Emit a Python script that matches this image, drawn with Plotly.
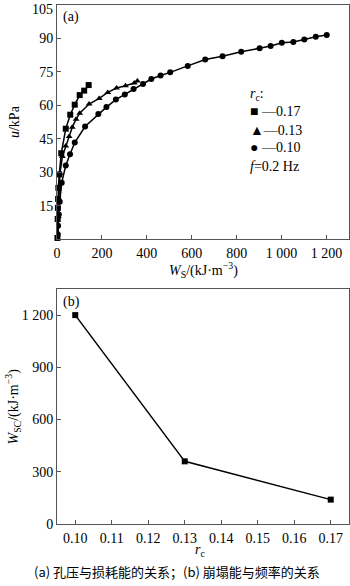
import plotly.graph_objects as go

# ---- data (a) ----
w_017 = [2, 3, 4, 5, 6, 10, 19, 39, 59, 79, 101, 121, 141]
u_017 = [0.5, 9, 14, 18, 23, 29, 38.5, 49.5, 55.8, 60.3, 64.6, 66.6, 69.1]

w_013 = [3, 6, 9, 13, 24, 39, 54, 68, 85, 101, 143, 188, 226, 265, 305, 344, 358]
u_013 = [3, 10, 18, 29.5, 37, 41.8, 46, 50.2, 53.8, 56.5, 60.6, 63.1, 65.8, 67.8, 68.8, 70.0, 70.9]

w_010 = [3, 5, 8, 12, 21, 39, 58, 79, 125, 184, 220, 262, 302, 341, 383, 420, 461, 504,
         582, 660, 737, 820, 902, 951, 1001, 1052, 1101, 1152, 1201]
u_010 = [2, 6, 11, 16.8, 25.3, 33, 38.1, 43.3, 50.5, 56.1, 59.2, 62.6, 64.9, 67.3, 69.6,
         71.8, 73.4, 74.8, 77.7, 80.6, 82, 84, 85.6, 86.6, 88.1, 88.4, 89.5, 90.8, 91.6]

# ---- data (b) ----
rc_vals = [0.10, 0.13, 0.17]
wsc_vals = [1200, 360, 140]

# ---- ticks ----
xa_tickvals = [0, 200, 400, 600, 800, 1000, 1200]
xa_ticktext = ["0", "200", "400", "600", "800", "1 000", "1 200"]
ya_tickvals = [15, 30, 45, 60, 75, 90, 105]
ya_ticktext = ["15", "30", "45", "60", "75", "90", "105"]
xb_tickvals = [0.10, 0.11, 0.12, 0.13, 0.14, 0.15, 0.16, 0.17]
xb_ticktext = ["0.10", "0.11", "0.12", "0.13", "0.14", "0.15", "0.16", "0.17"]
yb_tickvals = [0, 300, 600, 900, 1200]
yb_ticktext = ["0", "300", "600", "900", "1 200"]

SERIF = "Liberation Serif"
FS = 14

fig = go.Figure()
line = dict(color="black", width=1.5)
fig.add_trace(go.Scatter(x=w_017, y=u_017, mode="lines+markers", line=line,
                         marker=dict(symbol="square", size=6, color="black"),
                         xaxis="x", yaxis="y", showlegend=False, cliponaxis=False))
fig.add_trace(go.Scatter(x=w_013, y=u_013, mode="lines+markers", line=line,
                         marker=dict(symbol="triangle-up", size=6, color="black"),
                         xaxis="x", yaxis="y", showlegend=False))
fig.add_trace(go.Scatter(x=w_010, y=u_010, mode="lines+markers", line=line,
                         marker=dict(symbol="circle", size=6, color="black"),
                         xaxis="x", yaxis="y", showlegend=False))
fig.add_trace(go.Scatter(x=rc_vals, y=wsc_vals, mode="lines+markers", line=line,
                         marker=dict(symbol="square", size=6, color="black"),
                         xaxis="x2", yaxis="y2", showlegend=False))

axcommon = dict(showline=True, linecolor="#555", linewidth=1, mirror=True,
                ticks="inside", ticklen=4, tickcolor="#555", showgrid=False,
                zeroline=False, tickfont=dict(family=SERIF, size=FS, color="black"))

# top tick label drawn as annotation (plotly hides it at the paper edge)
ya_ticktext_axis = [t if v != 105 else "" for v, t in zip(ya_tickvals, ya_ticktext)]

fig.update_layout(
    width=350, height=586,
    margin=dict(l=57, r=1, t=5, b=62),
    paper_bgcolor="white", plot_bgcolor="white",
    xaxis=dict(domain=[0, 1], anchor="y", range=[0, 1300], ticklabelstandoff=1,
               tickvals=xa_tickvals, ticktext=xa_ticktext, **axcommon),
    yaxis=dict(domain=[0.549, 1], anchor="x", range=[0, 105.02],
               tickvals=ya_tickvals, ticktext=ya_ticktext_axis, **axcommon),
    xaxis2=dict(domain=[0, 1], anchor="y2", range=[0.095, 0.175], ticklabelstandoff=1,
                tickvals=xb_tickvals, ticktext=xb_ticktext, **axcommon),
    yaxis2=dict(domain=[0, 0.4528], anchor="x2", range=[0, 1350],
                tickvals=yb_tickvals, ticktext=yb_ticktext, **axcommon),
)

tf = dict(family=SERIF, size=FS, color="black")
ann = []
ann.append(dict(x=0, y=ya_tickvals[-1], xref="paper", yref="y", text=ya_ticktext[-1],
                showarrow=False, xanchor="right", yanchor="top", xshift=-2, yshift=5,
                font=tf))
# panel labels
ann.append(dict(x=18, y=99.8, xref="x", yref="y", text="(a)", showarrow=False,
                xanchor="left", yanchor="middle", font=tf))
ann.append(dict(x=0.0962, y=1276, xref="x2", yref="y2", text="(b)", showarrow=False,
                xanchor="left", yanchor="middle", font=tf))
# legend texts (a)
leg = [("<i>r</i><sub>c</sub>:", 64.7),
       ("■ —0.17", 57.1),
       ("▲—0.13", 48.6),
       ("● —0.10", 40.9),
       ("<i>f</i>=0.2 Hz", 32.4)]
for t, yv in leg:
    ann.append(dict(x=850, y=yv, xref="x", yref="y", text=t, showarrow=False,
                    xanchor="left", yanchor="middle", font=tf))
# axis titles
ann.append(dict(x=0.5, y=(524 - 270) / 519, xref="paper", yref="paper",
                text="<i>W</i><sub>S</sub>/(kJ·m<sup>−3</sup>)", showarrow=False,
                xanchor="center", yanchor="middle", font=tf))
ann.append(dict(x=(14 - 57) / 292, y=0.549 + 0.451 / 2, xref="paper", yref="paper",
                text="<i>u</i>/kPa", textangle=-90, showarrow=False,
                xanchor="center", yanchor="middle", font=tf))
ann.append(dict(x=(14 - 57) / 292, y=0.4528 / 2, xref="paper", yref="paper",
                text="<i>W</i><sub>SC</sub>/(kJ·m<sup>−3</sup>)", textangle=-90,
                showarrow=False, xanchor="center", yanchor="middle", font=tf))
ann.append(dict(x=(200 - 57) / 292, y=(524 - 550) / 519, xref="paper", yref="paper",
                text="<i>r</i><sub>c</sub>", showarrow=False,
                xanchor="center", yanchor="middle", font=tf))
# caption
ann.append(dict(x=(177 - 57) / 292, y=(524 - 571) / 519, xref="paper", yref="paper",
                text="(a) 孔压与损耗能的关系；(b) 崩塌能与频率的关系", showarrow=False,
                xanchor="center", yanchor="middle",
                font=dict(family="Noto Sans CJK SC", size=13, color="black")))
fig.update_layout(annotations=ann)

fig.write_html("out.html")
